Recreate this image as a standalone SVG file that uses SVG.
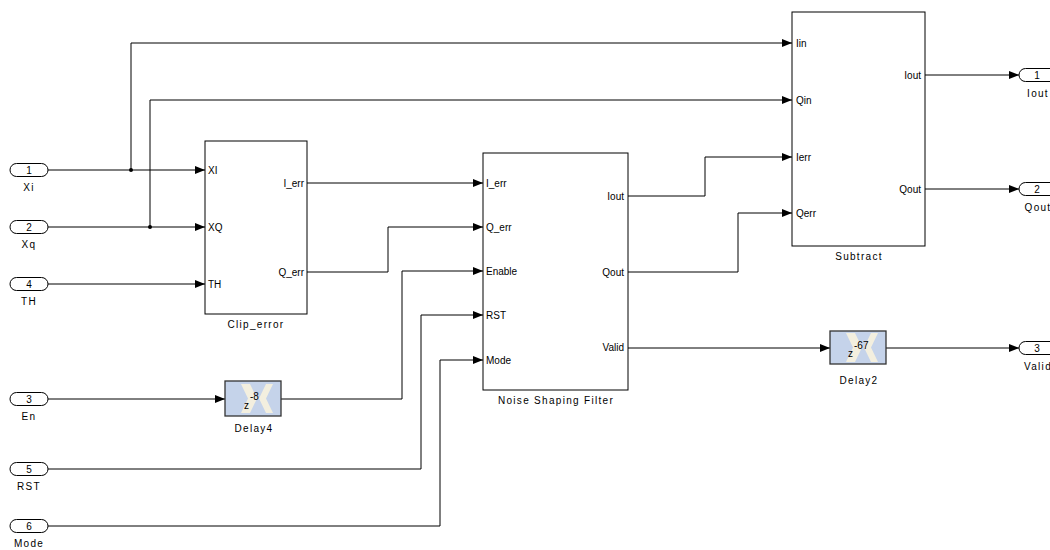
<svg xmlns="http://www.w3.org/2000/svg" width="1050" height="550" viewBox="0 0 1050 550">
<defs>
<style>
.blk{fill:#fff;stroke:#000;stroke-width:1}
.port{fill:#fff;stroke:#000;stroke-width:1}
.wire{fill:none;stroke:#000;stroke-width:1}
.t{font-family:"Liberation Sans",Arial,sans-serif;font-size:10px;fill:#000}
.lbl{font-family:"Liberation Sans",Arial,sans-serif;font-size:10px;fill:#000;text-anchor:middle;letter-spacing:1.3px}
.num{font-family:"Liberation Sans",Arial,sans-serif;font-size:10px;fill:#000;text-anchor:middle}
.e{text-anchor:end}
.dly{fill:#c5d3ea;stroke:#333;stroke-width:1.3}
.logo{fill:#f3efdf}
</style>
<marker id="ah" markerWidth="10" markerHeight="8" refX="10" refY="4" orient="auto" markerUnits="userSpaceOnUse">
<path d="M0,0 L10,4 L0,8 Z" fill="#000"/>
</marker>
</defs>
<rect width="1050" height="550" fill="#fff"/>

<g id="connectors">
<path class="wire" d="M48,170 H205" marker-end="url(#ah)"/>
<path class="wire" d="M131,170 V43 H792" marker-end="url(#ah)"/>
<path class="wire" d="M48,227 H205" marker-end="url(#ah)"/>
<path class="wire" d="M150,227 V100 H792" marker-end="url(#ah)"/>
<path class="wire" d="M48,284 H205" marker-end="url(#ah)"/>
<path class="wire" d="M307,183 H483" marker-end="url(#ah)"/>
<path class="wire" d="M307,272 H388 V227 H483" marker-end="url(#ah)"/>
<path class="wire" d="M48,399 H225" marker-end="url(#ah)"/>
<path class="wire" d="M281,399 H402 V271 H483" marker-end="url(#ah)"/>
<path class="wire" d="M48,469 H421 V315 H483" marker-end="url(#ah)"/>
<path class="wire" d="M48,526 H440 V360 H483" marker-end="url(#ah)"/>
<path class="wire" d="M628,196 H705 V157 H792" marker-end="url(#ah)"/>
<path class="wire" d="M628,272 H738 V213 H792" marker-end="url(#ah)"/>
<path class="wire" d="M628,348 H830" marker-end="url(#ah)"/>
<path class="wire" d="M886,348 H1019" marker-end="url(#ah)"/>
<path class="wire" d="M925,75 H1019" marker-end="url(#ah)"/>
<path class="wire" d="M925,189 H1019" marker-end="url(#ah)"/>
<circle cx="131" cy="170" r="2" fill="#000"/>
<circle cx="150" cy="227" r="2" fill="#000"/>
</g>

<g id="in_Xi">
<rect class="port" x="10" y="163.5" width="38" height="13" rx="6.5"/>
<text class="num" x="29" y="174">1</text>
<text class="lbl" x="29" y="191">Xi</text>
</g>
<g id="in_Xq">
<rect class="port" x="10" y="220.5" width="38" height="13" rx="6.5"/>
<text class="num" x="29" y="231">2</text>
<text class="lbl" x="29" y="248">Xq</text>
</g>
<g id="in_TH">
<rect class="port" x="10" y="277.5" width="38" height="13" rx="6.5"/>
<text class="num" x="29" y="288">4</text>
<text class="lbl" x="29" y="305">TH</text>
</g>
<g id="in_En">
<rect class="port" x="10" y="392.5" width="38" height="13" rx="6.5"/>
<text class="num" x="29" y="403">3</text>
<text class="lbl" x="29" y="420">En</text>
</g>
<g id="in_RST">
<rect class="port" x="10" y="462.5" width="38" height="13" rx="6.5"/>
<text class="num" x="29" y="473">5</text>
<text class="lbl" x="29" y="490">RST</text>
</g>
<g id="in_Mode">
<rect class="port" x="10" y="519.5" width="38" height="13" rx="6.5"/>
<text class="num" x="29" y="530">6</text>
<text class="lbl" x="29" y="547">Mode</text>
</g>

<g id="Clip_error">
<rect class="blk" x="205" y="141" width="102" height="173"/>
<text class="t" x="208" y="174">XI</text>
<text class="t" x="208" y="231">XQ</text>
<text class="t" x="208" y="288">TH</text>
<text class="t e" x="304" y="187">I_err</text>
<text class="t e" x="304" y="276">Q_err</text>
<text class="lbl" x="256" y="328">Clip_error</text>
</g>

<g id="Noise_Shaping_Filter">
<rect class="blk" x="483" y="153" width="145" height="237"/>
<text class="t" x="486" y="187">I_err</text>
<text class="t" x="486" y="231">Q_err</text>
<text class="t" x="486" y="275">Enable</text>
<text class="t" x="486" y="319">RST</text>
<text class="t" x="486" y="364">Mode</text>
<text class="t e" x="624" y="200">Iout</text>
<text class="t e" x="624" y="276">Qout</text>
<text class="t e" x="624" y="351">Valid</text>
<text class="lbl" x="556" y="404">Noise Shaping Filter</text>
</g>

<g id="Subtract">
<rect class="blk" x="792" y="12" width="133" height="234"/>
<text class="t" x="796" y="47">Iin</text>
<text class="t" x="796" y="104">Qin</text>
<text class="t" x="796" y="161">Ierr</text>
<text class="t" x="796" y="217">Qerr</text>
<text class="t e" x="921" y="79">Iout</text>
<text class="t e" x="921" y="193">Qout</text>
<text class="lbl" x="859" y="260">Subtract</text>
</g>

<g id="Delay4">
<rect class="dly" x="225" y="381" width="56" height="35"/>
<path class="logo" d="M241,384 L250,384 L257,398.5 L250,413 L241,413 L248,398.5 Z M266,384 L273,384 L266,398.5 L273,413 L266,413 L259,398.5 Z"/>
<text class="t" x="244" y="409" font-size="12">z</text>
<text class="t" x="250" y="400" font-size="9">-8</text>
<text class="lbl" x="254" y="432">Delay4</text>
</g>

<g id="Delay2">
<rect class="dly" x="830" y="331" width="56" height="33"/>
<path class="logo" d="M846,333 L855,333 L862,347.5 L855,362 L846,362 L853,347.5 Z M871,333 L878,333 L871,347.5 L878,362 L871,362 L864,347.5 Z"/>
<text class="t" x="848" y="357" font-size="12">z</text>
<text class="t" x="854" y="349" font-size="9">-67</text>
<text class="lbl" x="859" y="384">Delay2</text>
</g>

<g id="out_Iout">
<rect class="port" x="1019" y="68.5" width="45" height="13" rx="6.5"/>
<text class="num" x="1037" y="79">1</text>
<text class="lbl" x="1038" y="97">Iout</text>
</g>
<g id="out_Qout">
<rect class="port" x="1019" y="182.5" width="45" height="13" rx="6.5"/>
<text class="num" x="1037" y="193">2</text>
<text class="lbl" x="1038" y="211">Qout</text>
</g>
<g id="out_Valid">
<rect class="port" x="1019" y="341.5" width="45" height="13" rx="6.5"/>
<text class="num" x="1037" y="352">3</text>
<text class="lbl" x="1038" y="370">Valid</text>
</g>
</svg>
